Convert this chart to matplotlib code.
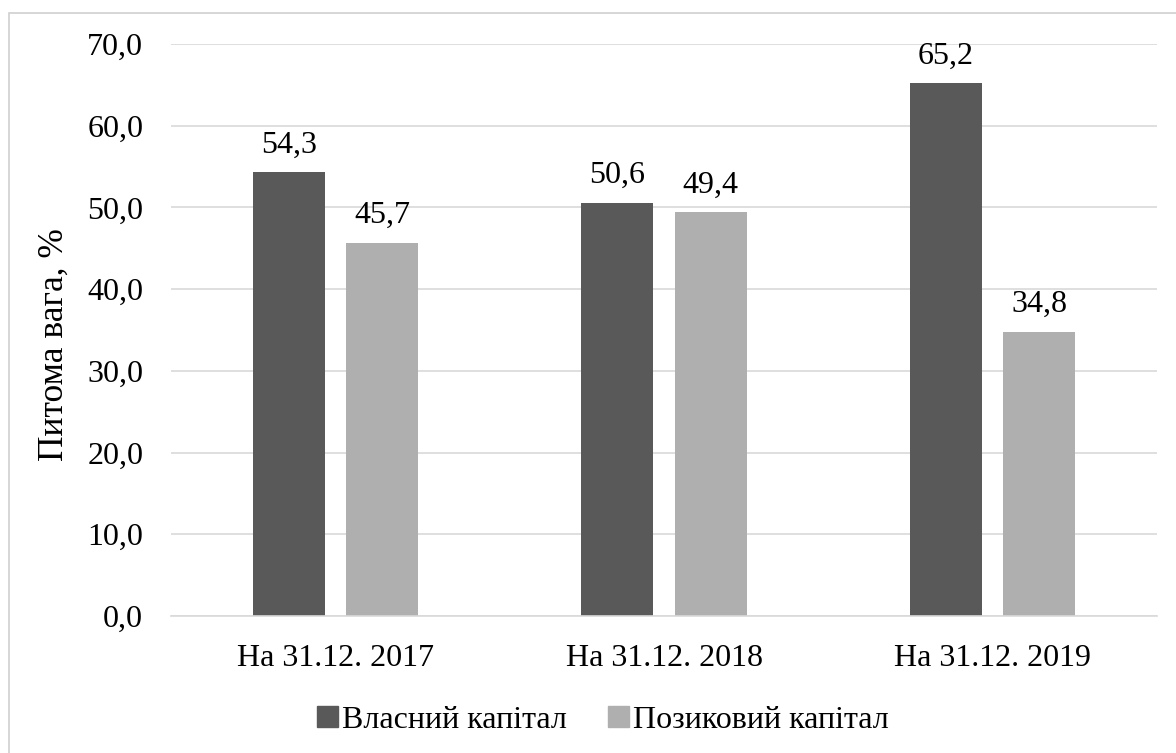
import numpy as np
import matplotlib
matplotlib.use("Agg")
import matplotlib.pyplot as plt
from matplotlib.patches import Rectangle

categories = ["На 31.12. 2017", "На 31.12. 2018", "На 31.12. 2019"]
own_capital = [54.3, 50.6, 65.2]
borrowed_capital = [45.7, 49.4, 34.8]
series_names = ["Власний капітал", "Позиковий капітал"]
y_ticks = [0, 10, 20, 30, 40, 50, 60, 70]

dark = "#595959"
light = "#afafaf"
FONT = "Liberation Serif"
FS = 23

plt.rcParams["font.family"] = FONT

fig = plt.figure(figsize=(11.76, 7.53), dpi=100)
ax = fig.add_axes([171 / 1176, 1 - 616 / 753, 986 / 1176, 572 / 753])

x = np.arange(len(categories))
w = 0.22
off = 0.142
b1 = ax.bar(x - off, own_capital, w, color=dark, zorder=2)
b2 = ax.bar(x + off, borrowed_capital, w, color=light, zorder=2)

for bars, vals in ((b1, own_capital), (b2, borrowed_capital)):
    for r, v in zip(bars, vals):
        ax.annotate(f"{v:.1f}".replace(".", ","),
                    (r.get_x() + r.get_width() / 2, v),
                    xytext=(0, 9), textcoords="offset points",
                    ha="center", va="bottom", fontsize=FS, family=FONT)

ax.set_xlim(-0.5, len(categories) - 0.5)
ax.set_ylim(0, 70)
ax.set_yticks(y_ticks)
ax.set_yticklabels([f"{t:.1f}".replace(".", ",") for t in y_ticks], fontsize=FS, family=FONT)
ax.set_xticks(x)
ax.set_xticklabels(categories, fontsize=FS, family=FONT)
ax.tick_params(axis="y", length=0, pad=20)
ax.tick_params(axis="x", length=0, pad=20)
ax.yaxis.grid(True, color="#d9d9d9", lw=1.2, zorder=0)
ax.set_axisbelow(True)
for s in ["top", "right", "left"]:
    ax.spines[s].set_visible(False)
ax.spines["bottom"].set_color("#d9d9d9")
ax.spines["bottom"].set_linewidth(1.2)

fig.text(54 / 1176, 1 - 345 / 753, "Питома вага, %", rotation=90,
         ha="center", va="center", fontsize=25.5, family=FONT)

handles = [Rectangle((0, 0), 1, 1, color=dark), Rectangle((0, 0), 1, 1, color=light)]
fig.legend(handles, series_names, loc="center", bbox_to_anchor=(603 / 1176, 1 - 720 / 753),
           ncol=2, frameon=False, prop={"family": FONT, "size": FS},
           handlelength=0.65, handleheight=0.65,
           handletextpad=0.12, columnspacing=1.3)

# chart border
fig.add_artist(Rectangle((9 / 1176, -0.1), 1.2, 1 - 13 / 753 + 0.1, transform=fig.transFigure,
                         fill=False, ec="#d0d0d0", lw=1.2, zorder=0))

fig.savefig("out.png", dpi=100)
